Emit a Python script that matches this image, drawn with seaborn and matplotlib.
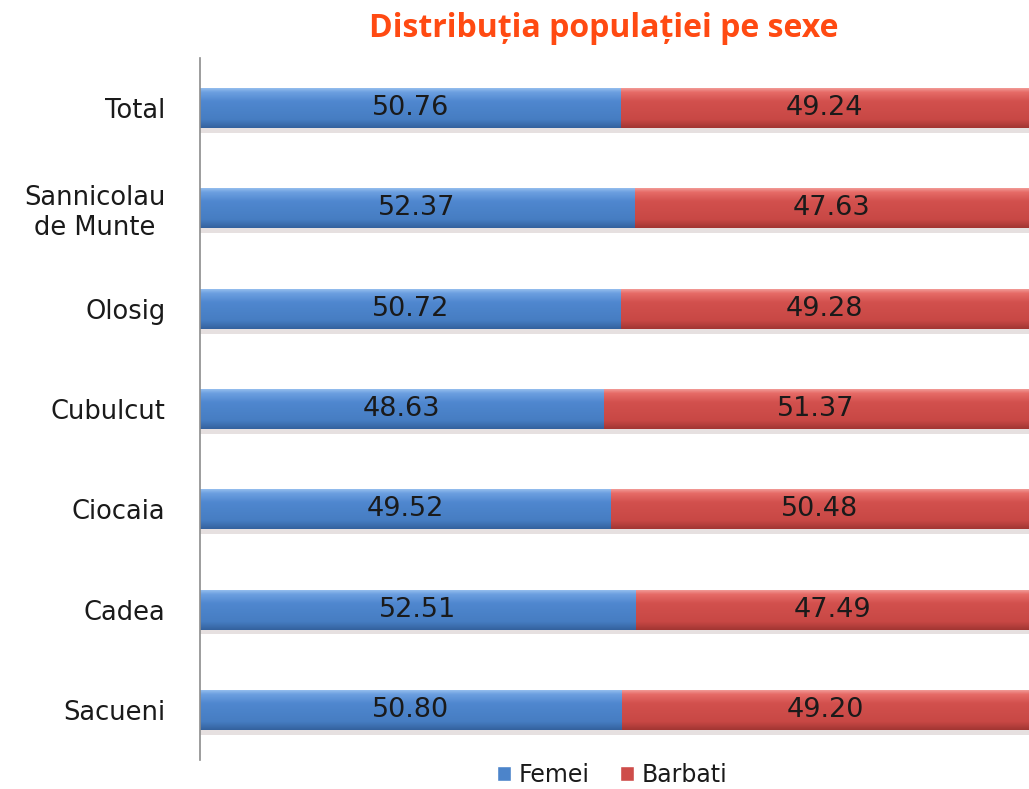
import pandas as pd
import numpy as np
import matplotlib
matplotlib.use('Agg')
import matplotlib.pyplot as plt
import matplotlib.patheffects as pe
from matplotlib.patches import Patch
from matplotlib.colors import LinearSegmentedColormap
import seaborn as sns

## --- dados
localitati = ['Total', 'Sannicolau\nde Munte', 'Olosig', 'Cubulcut', 'Ciocaia', 'Cadea', 'Sacueni']
femei = [50.76, 52.37, 50.72, 48.63, 49.52, 52.51, 50.80]
barbati = [49.24, 47.63, 49.28, 51.37, 50.48, 47.49, 49.20]

dados = pd.DataFrame({'localitate': localitati, 'femei': femei, 'barbati': barbati})
dados['total'] = dados['femei'] + dados['barbati']

cor_femei = '#4C84CA'
cor_barbati = '#CE4D4A'

# gradiente de cima (claro) pra baixo (escuro), efeito "3D" tipo Excel
cmap_femei = LinearSegmentedColormap.from_list(
    'fem', [(0, '#9CC3F0'), (0.12, '#6C9FE0'), (0.35, '#4F87CF'), (0.8, '#467DC2'), (1, '#34629E')])
cmap_barbati = LinearSegmentedColormap.from_list(
    'bar', [(0, '#F4A3A0'), (0.12, '#E66B67'), (0.35, '#D2504D'), (0.8, '#C84845'), (1, '#A23633')])

sns.set_style('white')
plt.rcParams['font.family'] = ['DejaVu Sans']

fig = plt.figure(figsize=(10.29, 7.89), dpi=100)
ax = fig.add_axes([200 / 1029, 1 - 760 / 789, 829 / 1029, 702 / 789])

# barra de tras = total (parte vermelha), barra da frente = femei
sns.barplot(data=dados, y='localitate', x='total', color=cor_barbati, orient='h',
            width=0.4, ax=ax, saturation=1)
n_red = len(ax.patches)
sns.barplot(data=dados, y='localitate', x='femei', color=cor_femei, orient='h',
            width=0.4, ax=ax, saturation=1)

sombra = [pe.SimplePatchShadow(offset=(0, -3.5), alpha=0.13), pe.Normal()]
grad = np.linspace(0, 1, 64).reshape(-1, 1)
for k, p in enumerate(ax.patches):
    vermelho = k < n_red
    z = 1 if vermelho else 3
    p.set_zorder(z)
    p.set_edgecolor('none')
    if vermelho:
        p.set_path_effects(sombra)
    x, y, w, h = p.get_x(), p.get_y(), p.get_width(), p.get_height()
    im = ax.imshow(grad, extent=[x, x + w, y + h, y], aspect='auto', origin='upper',
                   cmap=cmap_barbati if vermelho else cmap_femei, zorder=z + 0.5,
                   interpolation='bilinear')
    im.set_clip_path(p)

# rotulos dentro dos segmentos
for i, row in dados.iterrows():
    ax.text(row['femei'] / 2, i, f"{row['femei']:.2f}", ha='center', va='center',
            fontsize=19.5, color='#1a1a1a', zorder=6)
    ax.text(row['femei'] + row['barbati'] / 2, i, f"{row['barbati']:.2f}", ha='center',
            va='center', fontsize=19.5, color='#1a1a1a', zorder=6)

ax.set_xlim(0, 100)
ax.set_ylim(6.5, -0.5)
ax.set_xlabel('')
ax.set_ylabel('')
ax.set_xticks([])
ax.tick_params(axis='y', length=0, pad=25, labelsize=18.5)
for lbl in ax.get_yticklabels():
    lbl.set_multialignment('center')
    lbl.set_color('#1a1a1a')
for s in ['top', 'right', 'bottom']:
    ax.spines[s].set_visible(False)
ax.spines['left'].set_color('#8c8c8c')
ax.spines['left'].set_linewidth(1.2)
ax.spines['left'].set_zorder(7)

fig.text(0.587, 0.9645, 'Distribuția populației pe sexe', ha='center', va='center',
         fontsize=23, fontweight='bold', color='#FF4A12', family=['Open Sans', 'DejaVu Sans'])

handles = [Patch(facecolor=cor_femei, label='Femei'), Patch(facecolor=cor_barbati, label='Barbati')]
leg = fig.legend(handles=handles, loc='center', bbox_to_anchor=(0.595, 0.018), ncol=2,
                 frameon=False, fontsize=17, handlelength=0.6, handleheight=0.6,
                 handletextpad=0.3, columnspacing=1.3)
for t in leg.get_texts():
    t.set_color('#1a1a1a')

fig.savefig('out.png', dpi=100)
